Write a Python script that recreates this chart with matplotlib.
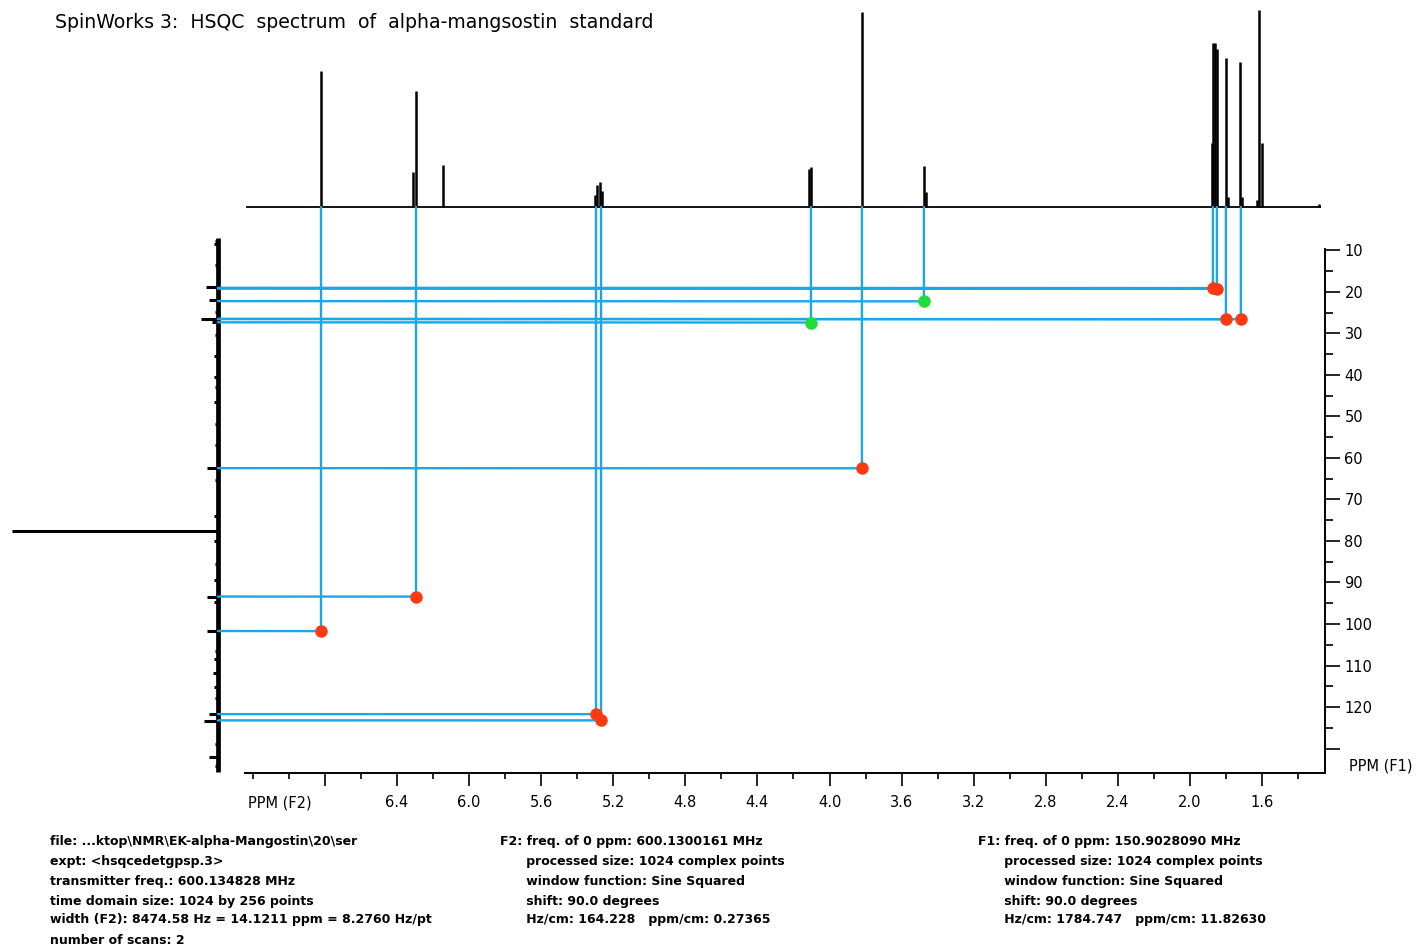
import matplotlib
matplotlib.use("Agg")
import matplotlib.pyplot as plt
from matplotlib.patches import ConnectionPatch

# figure size in pixels (dpi 100)
W, H = 1428, 952

# --- 1D proton projection (top), peaks as sticks: ppm, relative height (%)
h_ppm = [6.822, 6.31, 6.295, 6.147, 5.302, 5.291, 5.274, 5.263,
         4.115, 4.100, 3.820, 3.475, 3.465,
         1.879, 1.869, 1.860, 1.852, 1.801, 1.790, 1.720, 1.710,
         1.626, 1.615, 1.602, 1.282]
h_int = [69.0, 18.0, 59.0, 21.5, 6.0, 11.0, 12.7, 8.0,
         19.3, 20.3, 99.0, 21.0, 7.6,
         32.5, 83.0, 83.0, 80.0, 75.8, 5.0, 73.6, 5.0,
         3.5, 100.0, 32.5, 1.5]
h_range = (7.24, 1.27)

# --- 1D carbon projection (left): ppm, relative intensity
c_ppm = [7.8, 8.6, 13.6, 19.0, 22.0, 24.9, 26.6, 27.3, 30.5, 35.6, 40.5,
         43.0, 46.6, 51.9, 56.9, 62.4, 65.4, 74.1, 77.6, 80.0, 85.5, 89.3,
         93.4, 94.7, 101.6, 106.5, 108.5, 111.8, 115.2, 117.9, 121.7,
         123.3, 128.9, 132.0, 134.1]
c_int = [0.015, 0.02, 0.015, 0.058, 0.044, 0.015, 0.083, 0.03, 0.015, 0.02,
         0.02, 0.015, 0.02, 0.015, 0.015, 0.055, 0.015, 0.02, 1.0, 0.02,
         0.015, 0.02, 0.055, 0.02, 0.055, 0.015, 0.02, 0.025, 0.02, 0.015,
         0.045, 0.068, 0.015, 0.044, 0.015]
c_range = (7.1, 135.6)

# --- HSQC cross peaks (F2 = 1H ppm, F1 = 13C ppm)
red_f2 = [6.822, 6.295, 5.296, 5.268, 3.820, 1.872, 1.850, 1.800, 1.717]
red_f1 = [101.7, 93.4, 121.7, 123.2, 62.5, 19.1, 19.3, 26.6, 26.6]
green_f2 = [4.103, 3.476]
green_f1 = [27.4, 22.3]

f2_major = [6.8, 6.4, 6.0, 5.6, 5.2, 4.8, 4.4, 4.0, 3.6, 3.2, 2.8, 2.4, 2.0, 1.6]
f2_minor = [7.2, 7.0, 6.6, 6.2, 5.8, 5.4, 5.0, 4.6, 4.2, 3.8, 3.4, 3.0, 2.6,
            2.2, 1.8, 1.4]
f1_major = [10, 20, 30, 40, 50, 60, 70, 80, 90, 100, 110, 120, 130]
f1_minor = [15, 25, 35, 45, 55, 65, 75, 85, 95, 105, 115, 125]

BLUE = "#1ba6e6"
RED = "#ff3a12"
GREEN = "#1fdc3a"


def rect(x0, y0, x1, y1):
    return [x0 / W, 1 - y1 / H, (x1 - x0) / W, (y1 - y0) / H]


fig = plt.figure(figsize=(W / 100, H / 100), dpi=100)

ax = fig.add_axes(rect(245, 249, 1325, 773))
ax_top = fig.add_axes(rect(245, 0, 1325, 207), sharex=ax)
ax_left = fig.add_axes(rect(10, 238, 218, 773))

# main 2D axes
ax.set_xlim(7.244, 1.25)
ax.set_ylim(135.87, 9.7)
ax.patch.set_visible(False)
ax.set_zorder(3)
for s in ["top", "left"]:
    ax.spines[s].set_visible(False)
for s in ["bottom", "right"]:
    ax.spines[s].set_linewidth(1.4)
ax.yaxis.tick_right()
ax.set_xticks(f2_major, [""] + [f"{v:.1f}" for v in f2_major[1:]])
ax.set_xticks(f2_minor, minor=True)
ax.set_yticks(f1_major, [str(v) for v in f1_major[:-1]] + [""])
ax.set_yticks(f1_minor, minor=True)
ax.tick_params(axis="x", which="major", length=9, width=1.2, pad=7, labelsize=10.5)
ax.tick_params(axis="x", which="minor", length=4.5, width=1.2)
ax.tick_params(axis="y", which="major", length=11, width=1.2, pad=3, labelsize=10.5)
ax.tick_params(axis="y", which="minor", length=5.5, width=1.2)
ax.text(7.23, -0.057, "PPM (F2)", transform=ax.get_xaxis_transform(),
        ha="left", va="center", fontsize=10.5)
ax.text(1.022, 134.2, "PPM (F1)", transform=ax.get_yaxis_transform(),
        ha="left", va="center", fontsize=10.5)

# top 1H projection
ax_top.set_ylim(0, 105)
ax_top.axis("off")
ax_top.hlines(0, h_range[0], h_range[1], color="black", lw=1.3, clip_on=False)
ax_top.vlines(h_ppm, 0, h_int, color="black", lw=1.8, clip_on=False)

# left 13C projection
ax_left.set_xlim(1.01, 0)
ax_left.set_ylim(135.87, 7.11)
ax_left.axis("off")
ax_left.vlines(0, c_range[0], c_range[1], color="black", lw=3.4, clip_on=False)
ax_left.hlines(c_ppm, 0, c_int, color="black", lw=2.2, clip_on=False)

# correlation lines from projections to cross peaks
for xs, ys in [(red_f2, red_f1), (green_f2, green_f1)]:
    for x, y in zip(xs, ys):
        v = ConnectionPatch(xyA=(x, 0), coordsA=ax_top.transData,
                            xyB=(x, y), coordsB=ax.transData,
                            color=BLUE, lw=1.7, zorder=2)
        hz = ConnectionPatch(xyA=(0, y), coordsA=ax_left.transData,
                             xyB=(x, y), coordsB=ax.transData,
                             color=BLUE, lw=1.7, zorder=2)
        fig.add_artist(v)
        fig.add_artist(hz)

ax.plot(red_f2, red_f1, "o", color=RED, ms=8, mec=RED, clip_on=False, zorder=5)
ax.plot(green_f2, green_f1, "o", color=GREEN, ms=8, mec=GREEN, clip_on=False, zorder=5)

# title
fig.text(55 / W, 1 - 22 / H,
         "SpinWorks 3:  HSQC  spectrum  of  alpha-mangsostin  standard",
         ha="left", va="center", fontsize=13.6)

# acquisition / processing info
info_left = [
    "file: ...ktop\\NMR\\EK-alpha-Mangostin\\20\\ser",
    "expt: <hsqcedetgpsp.3>",
    "transmitter freq.: 600.134828 MHz",
    "time domain size: 1024 by 256 points",
    "width (F2): 8474.58 Hz = 14.1211 ppm = 8.2760 Hz/pt",
    "number of scans: 2",
]
info_f2 = [
    "F2: freq. of 0 ppm: 600.1300161 MHz",
    "      processed size: 1024 complex points",
    "      window function: Sine Squared",
    "      shift: 90.0 degrees",
    "      Hz/cm: 164.228   ppm/cm: 0.27365",
]
info_f1 = [
    "F1: freq. of 0 ppm: 150.9028090 MHz",
    "      processed size: 1024 complex points",
    "      window function: Sine Squared",
    "      shift: 90.0 degrees",
    "      Hz/cm: 1784.747   ppm/cm: 11.82630",
]
line_y = [842, 861, 881, 901, 920, 940]
for x0, block in [(50, info_left), (500, info_f2), (978, info_f1)]:
    for y0, s in zip(line_y, block):
        fig.text(x0 / W, 1 - y0 / H, s, ha="left", va="center",
                 fontsize=9, fontweight="bold")

fig.savefig("out.png", dpi=100)
